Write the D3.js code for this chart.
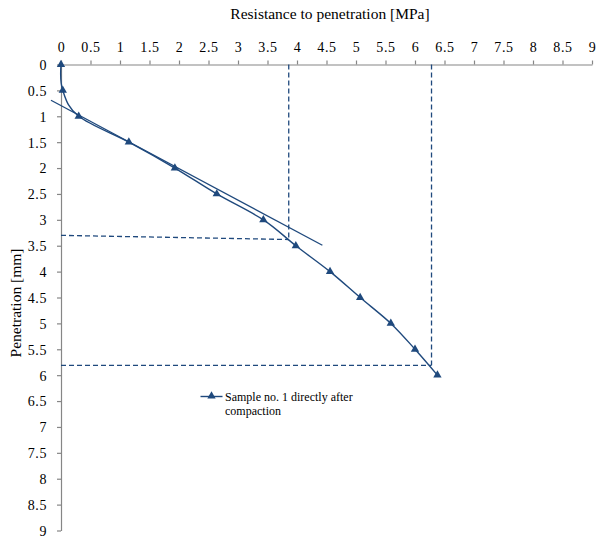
<!DOCTYPE html>
<html><head><meta charset="utf-8">
<script src="https://cdn.jsdelivr.net/npm/d3@7"></script>
<style>body{margin:0;background:#fff}svg{display:block}svg text{font-family:"Liberation Serif","Times New Roman",serif !important;fill:#000}</style>
</head><body><svg id="c" width="597" height="539"></svg>
<script>
const resistance = [0, 0.03, 0.3, 1.15, 1.93, 2.64, 3.43, 3.98, 4.56, 5.07, 5.59, 6.0, 6.38];
const penetration = [0, 0.5, 1, 1.5, 2, 2.5, 3, 3.5, 4, 4.5, 5, 5.5, 6];
const tangentX = [-0.17, 4.43];
const tangentY = [0.69, 3.49];
const guide1X = [3.86, 3.86]; const guide1Y = [0, 3.38];
const guide2X = [0, 3.86]; const guide2Y = [3.3, 3.38];
const guide3X = [6.28, 6.28]; const guide3Y = [0, 5.81];
const guide4X = [0, 6.28]; const guide4Y = [5.81, 5.81];
const xTicks = [0,0.5,1,1.5,2,2.5,3,3.5,4,4.5,5,5.5,6,6.5,7,7.5,8,8.5,9];
const yTicks = [0,0.5,1,1.5,2,2.5,3,3.5,4,4.5,5,5.5,6,6.5,7,7.5,8,8.5,9];
const seriesName = ["Sample no. 1 directly after", "compaction"];

const svg = d3.select("#c");
const color = "#1f497d";
const font = '"Liberation Serif", "Times New Roman", serif';
const x = d3.scaleLinear().domain([0, 9]).range([61, 592]);
const y = d3.scaleLinear().domain([0, 9]).range([64.5, 530.5]);

const xAxis = svg.append("g").attr("transform", `translate(0,${y(0)})`)
  .call(d3.axisTop(x).tickValues(xTicks).tickSize(4).tickSizeOuter(0).tickPadding(9).tickFormat(d => String(d)));
const yAxis = svg.append("g").attr("transform", `translate(${x(0)},0)`)
  .call(d3.axisLeft(y).tickValues(yTicks).tickSize(4).tickSizeOuter(0).tickPadding(10).tickFormat(d => String(d)));
[xAxis, yAxis].forEach(a => {
  a.attr("font-family", font).attr("font-size", 14);
  a.selectAll("path,line").attr("stroke", "#868686").attr("stroke-width", 1.2);
  a.selectAll("text").style("font-size", "14px").style("letter-spacing", "0.6px").style("font-family", font).attr("fill", "#000");
});
yAxis.selectAll("text").attr("dy", "0.35em");

// dashed guides
const guides = [[guide1X, guide1Y],[guide2X, guide2Y],[guide3X, guide3Y],[guide4X, guide4Y]];
guides.forEach(([gx, gy]) => {
  svg.append("line").attr("x1", x(gx[0])).attr("y1", y(gy[0])).attr("x2", x(gx[1])).attr("y2", y(gy[1]))
    .attr("stroke", color).attr("stroke-width", 1.3).attr("stroke-dasharray", "5,3");
});

// tangent
svg.append("line").attr("x1", x(tangentX[0])).attr("y1", y(tangentY[0])).attr("x2", x(tangentX[1])).attr("y2", y(tangentY[1]))
  .attr("stroke", color).attr("stroke-width", 1.3);

// series
const pts = resistance.map((r, i) => [r, penetration[i]]);
const line = d3.line().x(d => x(d[0])).y(d => y(d[1])).curve(d3.curveCardinal.tension(0));
svg.append("path").attr("d", line(pts)).attr("fill", "none").attr("stroke", color).attr("stroke-width", 1.4);
const tri = d3.symbol().type(d3.symbolTriangle).size(30);
svg.selectAll(".m").data(pts).join("path").attr("class", "m")
  .attr("transform", d => `translate(${x(d[0])},${y(d[1])})`).attr("d", tri()).attr("fill", color);

// legend
svg.append("line").attr("x1", 200.5).attr("x2", 222.5).attr("y1", 396.5).attr("y2", 396.5).attr("stroke", color).attr("stroke-width", 1.4);
svg.append("path").attr("transform", "translate(211.5,396)").attr("d", tri()).attr("fill", color);
svg.append("text").attr("x", 225).attr("y", 400.5).style("font-size", "12px").style("font-family", font).text(seriesName[0]);
svg.append("text").attr("x", 225).attr("y", 414.5).style("font-size", "12px").style("font-family", font).text(seriesName[1]);

// titles
svg.append("text").attr("x", 330).attr("y", 19).attr("text-anchor", "middle").style("font-size", "15.5px").style("font-family", font).text("Resistance to penetration [MPa]");
svg.append("text").attr("transform", "translate(21,303) rotate(-90)").attr("text-anchor", "middle").style("font-size", "15.5px").style("font-family", font).text("Penetration [mm]");
</script></body></html>
